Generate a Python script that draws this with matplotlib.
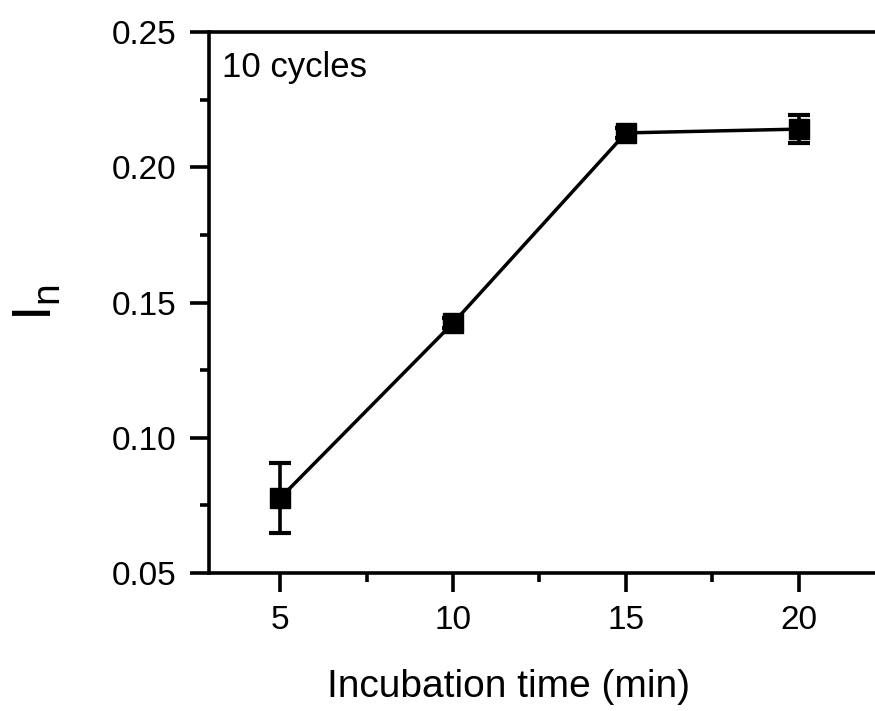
import matplotlib.pyplot as plt

plt.rcParams['font.family'] = ['Liberation Sans', 'DejaVu Sans']
plt.rcParams['mathtext.fontset'] = 'custom'
plt.rcParams['mathtext.rm'] = 'Liberation Sans'

# Data
time_min = [5, 10, 15, 20]
i_n = [0.0777, 0.1424, 0.2127, 0.2141]
i_n_err = [0.0129, 0.0018, 0.0018, 0.0052]

fig = plt.figure(figsize=(8.75, 7.11), dpi=100)
ax = fig.add_axes([0.239, 0.194, 0.761, 0.761])

ax.errorbar(time_min, i_n, yerr=i_n_err, color='black', marker='s', markersize=15,
            linewidth=2.5, elinewidth=2.6, capsize=8, capthick=3)

ax.set_xlim(2.95, 22.2)
ax.set_ylim(0.05, 0.25)
ax.set_xticks([5, 10, 15, 20])
ax.set_xticks([7.5, 12.5, 17.5], minor=True)
ax.set_yticks([0.05, 0.10, 0.15, 0.20, 0.25])
ax.set_yticks([0.075, 0.125, 0.175, 0.225], minor=True)
ax.set_yticklabels(['0.05', '0.10', '0.15', '0.20', '0.25'])

ax.spines['right'].set_visible(False)
for s in ['left', 'bottom', 'top']:
    ax.spines[s].set_linewidth(2.6)

ax.tick_params(which='major', direction='out', length=13.7, width=2.6, labelsize=24)
ax.tick_params(axis='x', which='major', pad=9)
ax.tick_params(axis='y', which='major', pad=10)
ax.tick_params(which='minor', direction='out', length=6.5, width=2.6)

ax.set_xlabel('Incubation time (min)', fontsize=28)
ax.xaxis.set_label_coords(0.449, -0.178)
ax.set_ylabel(r'I$_\mathrm{n}$', fontsize=40, labelpad=35)

ax.text(0.02, 0.965, '10 cycles', transform=ax.transAxes, fontsize=25, va='top', ha='left')

fig.savefig('out.png', dpi=100)
